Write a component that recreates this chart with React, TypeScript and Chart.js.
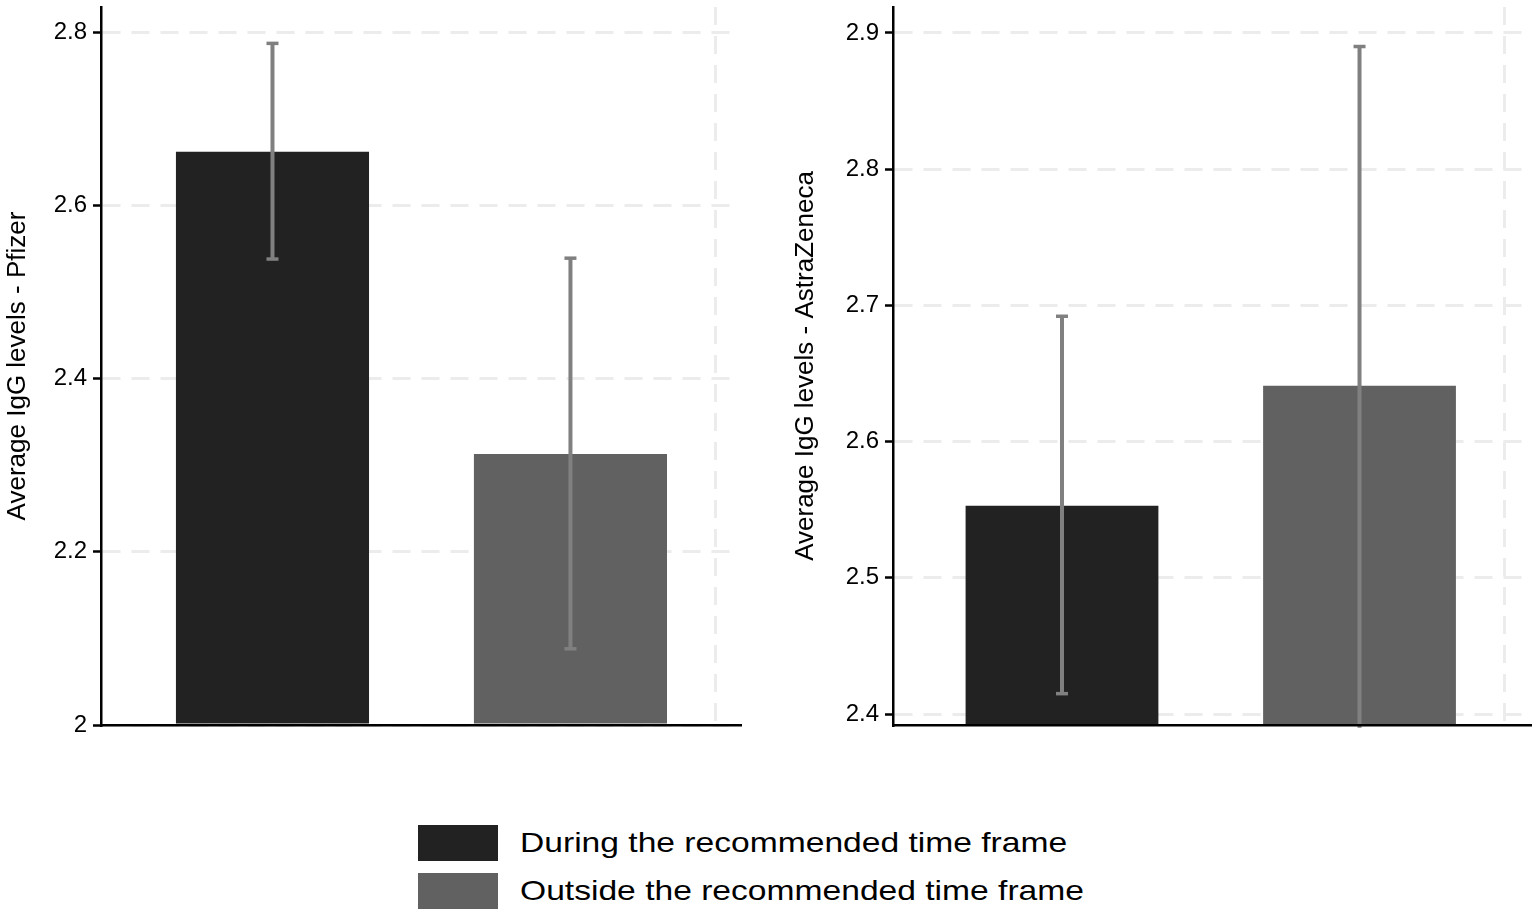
import React, { useEffect, useRef } from 'react';
import { Chart, registerables } from 'chart.js';

Chart.register(...registerables);

// groups (legend entries) and bar positions on the x axis
const groups = ['During the recommended time frame', 'Outside the recommended time frame'];
const barPositions = [1, 2];

// Pfizer panel
const pfizerMeans = [2.662, 2.313];
const pfizerLow = [2.538, 2.088];
const pfizerHigh = [2.787, 2.539];
const pfizerTicks = [2, 2.2, 2.4, 2.6, 2.8];

// AstraZeneca panel
const azMeans = [2.553, 2.641];
const azLow = [2.415, 2.39];
const azHigh = [2.692, 2.89];
const azTicks = [2.4, 2.5, 2.6, 2.7, 2.8, 2.9];

const barColors = ['#222222', '#616161'];
const FONT = '"Liberation Sans", Arial, Helvetica, sans-serif';

// draws the confidence interval whiskers on top of the bars
const errorBars = {
  id: 'errorBars',
  afterDatasetsDraw(chart: any, _args: any, opts: any) {
    const { ctx } = chart;
    const y = chart.scales.y;
    ctx.save();
    ctx.strokeStyle = '#808080';
    chart.data.datasets.forEach((_ds: any, i: number) => {
      const bar = chart.getDatasetMeta(i).data[0];
      if (!bar) return;
      const x = bar.x;
      const lo = opts.low[i];
      const hi = opts.high[i];
      const yLo = y.getPixelForValue(lo);
      const yHi = y.getPixelForValue(hi);
      ctx.lineWidth = 4;
      ctx.beginPath();
      ctx.moveTo(x, yLo);
      ctx.lineTo(x, yHi);
      ctx.stroke();
      ctx.lineWidth = 3.5;
      [lo, hi].forEach((v) => {
        if (v < y.min || v > y.max) return;
        const py = y.getPixelForValue(v);
        ctx.beginPath();
        ctx.moveTo(x - 6, py);
        ctx.lineTo(x + 6, py);
        ctx.stroke();
      });
    });
    ctx.restore();
  },
};

function makeConfig(
  means: number[],
  low: number[],
  high: number[],
  ticks: number[],
  yMin: number,
  yMax: number,
  xMin: number,
  xMax: number,
  title: string,
  axisWidth: number,
  titlePad: number,
  padRight: number
): any {
  return {
    type: 'bar',
    data: {
      datasets: groups.map((g, i) => ({
        label: g,
        data: [{ x: barPositions[i], y: means[i] }],
        backgroundColor: barColors[i],
        borderWidth: 0,
        grouped: false,
        barPercentage: 0.648,
        categoryPercentage: 1,
        base: yMin,
      })),
    },
    options: {
      animation: false,
      responsive: true,
      maintainAspectRatio: false,
      layout: { padding: { top: 7, right: padRight, bottom: 15, left: 0 } },
      plugins: {
        legend: { display: false },
        tooltip: { enabled: false },
        errorBars: { low, high },
      },
      scales: {
        x: {
          type: 'linear',
          min: xMin,
          max: xMax,
          offset: false,
          afterBuildTicks: (scale: any) => {
            scale.ticks = [{ value: 2.488 }];
          },
          afterFit: (scale: any) => {
            scale.height = 0;
            scale.paddingLeft = 0;
            scale.paddingRight = 0;
          },
          ticks: { display: false },
          grid: { color: '#ececec', lineWidth: 3, drawTicks: false, offset: false },
          border: { color: '#000000', width: 2.5, dash: [18, 11], z: 1 },
        },
        y: {
          min: yMin,
          max: yMax,
          afterBuildTicks: (scale: any) => {
            scale.ticks = ticks.map((v) => ({ value: v }));
          },
          afterFit: (scale: any) => {
            scale.width = axisWidth;
            scale.paddingTop = 0;
            scale.paddingBottom = 0;
          },
          ticks: {
            color: '#000000',
            padding: 6,
            font: { family: FONT, size: 24 },
            callback: (v: any) => String(v),
          },
          grid: {
            color: '#ececec',
            lineWidth: 3,
            tickLength: 8,
            tickColor: '#000000',
            tickWidth: 2.5,
            tickBorderDash: [],
          },
          border: { color: '#000000', width: 2.5, dash: [18, 11], z: 1 },
          title: {
            display: true,
            text: title,
            color: '#000000',
            font: { family: FONT, size: 26 },
            padding: { top: titlePad, bottom: 0 },
          },
        },
      },
    },
    plugins: [errorBars],
  };
}

export default function App() {
  const leftRef = useRef<HTMLCanvasElement>(null);
  const rightRef = useRef<HTMLCanvasElement>(null);

  useEffect(() => {
    const charts: Chart[] = [];
    if (leftRef.current) {
      charts.push(
        new Chart(
          leftRef.current,
          makeConfig(pfizerMeans, pfizerLow, pfizerHigh, pfizerTicks, 2, 2.829, 0.4245, 2.569,
            'Average IgG levels - Pfizer', 101, 2.5, 20)
        )
      );
    }
    if (rightRef.current) {
      charts.push(
        new Chart(
          rightRef.current,
          makeConfig(azMeans, azLow, azHigh, azTicks, 2.392, 2.919, 0.432, 2.573,
            'Average IgG levels - AstraZeneca', 113, 10.5, 6)
        )
      );
    }
    return () => {
      charts.forEach((c) => c.destroy());
    };
  }, []);

  return (
    <div style={{ position: 'absolute', left: 0, top: 0, width: 1536, height: 917, background: '#fff', overflow: 'hidden' }}>
      <div style={{ position: 'absolute', left: 0, top: 0, width: 760, height: 740 }}>
        <canvas ref={leftRef} />
      </div>
      <div style={{ position: 'absolute', left: 780, top: 0, width: 756, height: 740 }}>
        <canvas ref={rightRef} />
      </div>
      {groups.map((g, i) => (
        <div key={g} style={{ position: 'absolute', left: 418, top: 825 + i * 48, height: 36, display: 'flex', alignItems: 'center' }}>
          <div style={{ width: 80, height: 36, background: barColors[i] }} />
          <div
            style={{
              marginLeft: 22,
              fontFamily: FONT,
              fontSize: 28,
              lineHeight: '36px',
              color: '#000',
              whiteSpace: 'nowrap',
              transform: 'scaleX(1.2)',
              transformOrigin: 'left center',
            }}
          >
            {g}
          </div>
        </div>
      ))}
    </div>
  );
}
